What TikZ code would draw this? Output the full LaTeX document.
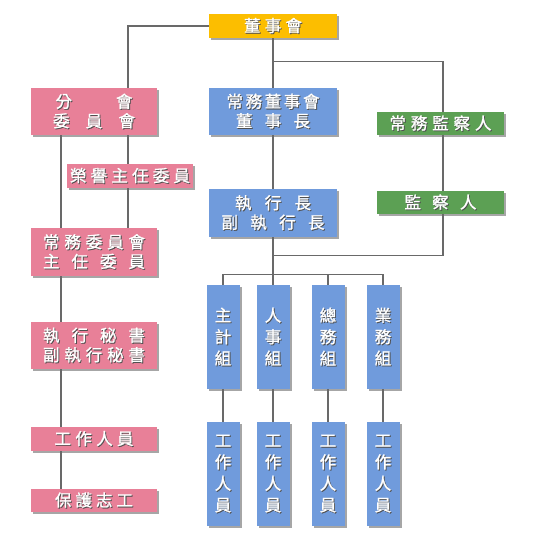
\documentclass[tikz,border=0pt]{standalone}
\usepackage{fontspec}
\newfontfamily\cjk[FakeBold=1.3]{Noto Sans CJK TC}
\usetikzlibrary{shadows}
\definecolor{gold}{RGB}{252,190,0}
\definecolor{blu}{RGB}{112,155,220}
\definecolor{pnk}{RGB}{232,128,152}
\definecolor{grn}{RGB}{92,160,84}
\definecolor{lin}{RGB}{105,105,105}
\definecolor{txs}{RGB}{80,80,80}
\newcommand\tline[2]{\makebox[#1]{\rlap{\raisebox{-0.9pt}{\hspace{0.9pt}\textcolor{txs}{\makebox[#1]{#2}}}}\makebox[#1]{#2}}}
\begin{document}
\begin{tikzpicture}[x=1pt,y=-1pt,
  box/.style={draw=none, text=white, inner sep=0pt, align=center,
    font=\cjk\fontsize{16.5}{19.5}\selectfont,
    drop shadow={shadow xshift=2.2pt, shadow yshift=-2.2pt, fill=black, opacity=0.35}},
  colbox/.style={box, fill=blu, minimum width=33pt, minimum height=104pt,
    font=\cjk\fontsize{16.5}{21.5}\selectfont},
  ln/.style={draw=lin, line width=1.2pt}]
\useasboundingbox (0,0) rectangle (535,544);

% top
\node[box, fill=gold, minimum width=128pt, minimum height=24pt] (top) at (273,26) {\tline{58pt}{董\hfill 事\hfill 會}};

% left column
\node[box, fill=pnk, minimum width=126pt, minimum height=47pt] (fen) at (94,111.5) {\tline{77pt}{分\hfill 會}\\\tline{82pt}{委\hfill 員\hfill 會}};
\node[box, fill=pnk, minimum width=126pt, minimum height=24pt] (ry) at (130,176) {\tline{120pt}{榮\hfill 譽\hfill 主\hfill 任\hfill 委\hfill 員}};
\node[box, fill=pnk, minimum width=126pt, minimum height=48pt] (cw) at (94,252) {\tline{102pt}{常\hfill 務\hfill 委\hfill 員\hfill 會}\\\tline{102pt}{主\hfill 任\hfill 委\hfill 員}};
\node[box, fill=pnk, minimum width=126pt, minimum height=47pt] (zx) at (94,345.5) {\tline{102pt}{執\hfill 行\hfill 秘\hfill 書}\\\tline{102pt}{副\hfill 執\hfill 行\hfill 秘\hfill 書}};
\node[box, fill=pnk, minimum width=126pt, minimum height=24pt] (gz) at (94,439) {\tline{79pt}{工\hfill 作\hfill 人\hfill 員}};
\node[box, fill=pnk, minimum width=126pt, minimum height=23pt] (bh) at (94,500.5) {\tline{78pt}{保\hfill 護\hfill 志\hfill 工}};

% center column
\node[box, fill=blu, minimum width=128pt, minimum height=47pt] (cd) at (273,111.5) {\tline{93pt}{常\hfill 務\hfill 董\hfill 事\hfill 會}\\\tline{74pt}{董\hfill 事\hfill 長}};
\node[box, fill=blu, minimum width=128pt, minimum height=48pt] (zxz) at (273,213) {\tline{76pt}{執\hfill 行\hfill 長}\\\tline{103pt}{副\hfill 執\hfill 行\hfill 長}};

% right column
\node[box, fill=grn, minimum width=127pt, minimum height=23pt] (cjr) at (440.5,123.5) {\tline{102pt}{常\hfill 務\hfill 監\hfill 察\hfill 人}};
\node[box, fill=grn, minimum width=127pt, minimum height=23pt] (jcr) at (440.5,202.5) {\tline{72pt}{監\hfill 察\hfill 人}};

% groups
\node[colbox] (c1) at (223,337) {\tline{16pt}{主}\\\tline{16pt}{計}\\\tline{16pt}{組}};
\node[colbox] (c2) at (273,337) {\tline{16pt}{人}\\\tline{16pt}{事}\\\tline{16pt}{組}};
\node[colbox] (c3) at (328,337) {\tline{16pt}{總}\\\tline{16pt}{務}\\\tline{16pt}{組}};
\node[colbox] (c4) at (383,337) {\tline{16pt}{業}\\\tline{16pt}{務}\\\tline{16pt}{組}};
\node[colbox] (w1) at (223,474) {\tline{16pt}{工}\\\tline{16pt}{作}\\\tline{16pt}{人}\\\tline{16pt}{員}};
\node[colbox] (w2) at (273,474) {\tline{16pt}{工}\\\tline{16pt}{作}\\\tline{16pt}{人}\\\tline{16pt}{員}};
\node[colbox] (w3) at (328,474) {\tline{16pt}{工}\\\tline{16pt}{作}\\\tline{16pt}{人}\\\tline{16pt}{員}};
\node[colbox] (w4) at (383,474) {\tline{16pt}{工}\\\tline{16pt}{作}\\\tline{16pt}{人}\\\tline{16pt}{員}};

% connectors left
\draw[ln] (top.west) -| ([xshift=34pt]fen.north);
\draw[ln] ([xshift=34pt]fen.south) -- ([xshift=34pt]fen.south |- ry.north);
\draw[ln] ([xshift=34pt]fen.south |- ry.south) -- ([xshift=34pt]cw.north);
\draw[ln] ([xshift=-33pt]fen.south) -- ([xshift=-33pt]cw.north);
\draw[ln] ([xshift=-33pt]cw.south) -- ([xshift=-33pt]zx.north);
\draw[ln] ([xshift=-33pt]zx.south) -- ([xshift=-33pt]gz.north);
\draw[ln] ([xshift=-33pt]gz.south) -- ([xshift=-33pt]bh.north);

% connectors center / right
\draw[ln] (top.south) -- (cd.north);
\draw[ln] (cd.south) -- (zxz.north);
\draw[ln] ([yshift=26pt]cd.north) -| ([xshift=2.5pt]cjr.north);
\draw[ln] ([xshift=2.5pt]cjr.south) -- ([xshift=2.5pt]jcr.north);
\draw[ln] ([xshift=2.5pt]jcr.south) |- ([yshift=-18pt]zxz.south);
\draw[ln] (zxz.south) -- ([yshift=-38pt]zxz.south);
\draw[ln] (c1.north) -- ([yshift=10pt]c1.north) -| (c4.north);
\draw[ln] (c2.north) -- ([yshift=10pt]c2.north);
\draw[ln] (c3.north) -- ([yshift=10pt]c3.north);
\draw[ln] (c1.south) -- (w1.north);
\draw[ln] (c2.south) -- (w2.north);
\draw[ln] (c3.south) -- (w3.north);
\draw[ln] (c4.south) -- (w4.north);
\end{tikzpicture}
\end{document}
